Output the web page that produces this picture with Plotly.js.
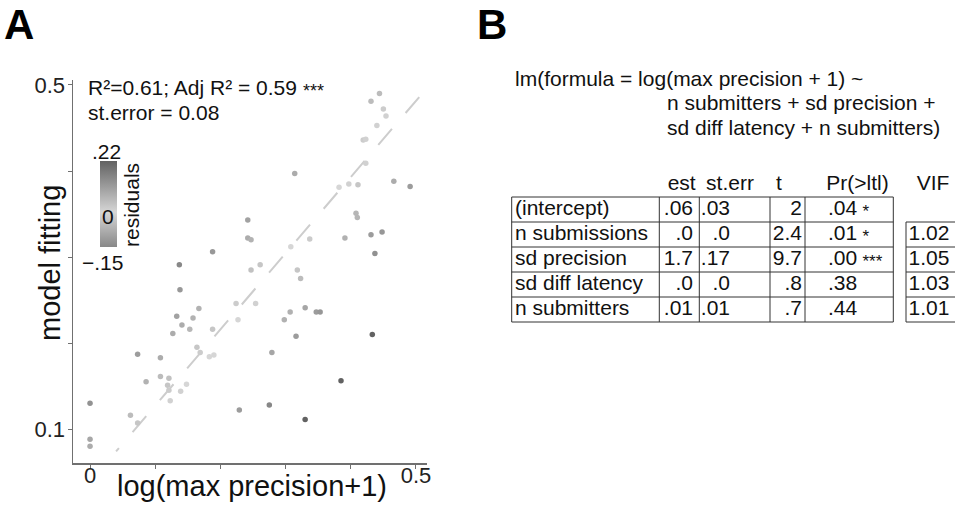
<!DOCTYPE html>
<html><head><meta charset="utf-8">
<script src="https://cdn.plot.ly/plotly-3.0.1.min.js"></script>
<style>html,body{margin:0;padding:0;background:#fff}#chart{width:955px;height:505px}</style>
</head><body><div id="chart"></div>
<script>
// ---------------- Panel A data ----------------
const observed = [0.444,0.431,0.450,0.454,0.440,0.419,0.423,0.423,0.314,0.382,
  0.397,0.411,0.466,0.491,0.408,0.410,0.242,0.242,0.247,0.337,
  0.308,0.391,0.431,0.448,0.437,0.188,0.137,0.247,0.261,0.318,
  0.323,0.138,0.224,0.254,0.227,0.307,0.298,0.330,0.347,0.353,
  0.316,0.433,0.279,0.385,0.229,0.275,0.330,0.167,0.133,0.158,
  0.141,0.153,0.127,0.188,0.164,0.169,0.183,0.190,0.073,0.108,
  0.086,0.108,0.121,0.119,0.121,0.139,0.148,0.123,0.000,0.062,
  0.073,0.000,0.000];
const fitted = [0.490,0.481,0.472,0.464,0.453,0.436,0.437,0.409,0.397,0.381,
  0.385,0.384,0.388,0.382,0.351,0.346,0.343,0.322,0.320,0.321,
  0.312,0.322,0.326,0.329,0.304,0.306,0.291,0.285,0.291,0.285,
  0.275,0.262,0.246,0.246,0.227,0.236,0.227,0.241,0.236,0.236,
  0.208,0.210,0.189,0.156,0.122,0.128,0.111,0.240,0.231,0.229,
  0.221,0.216,0.211,0.216,0.195,0.189,0.184,0.186,0.187,0.183,
  0.155,0.161,0.159,0.151,0.145,0.144,0.152,0.133,0.130,0.116,
  0.107,0.088,0.080];
const residuals = [-0.05,-0.05,-0.02,-0.01,-0.01,-0.02,-0.01,0.01,-0.08,0.00,
  0.01,0.03,0.08,0.11,0.06,0.06,-0.10,-0.08,-0.07,0.02,
  0.00,0.07,0.11,0.12,0.13,-0.12,-0.15,-0.04,-0.03,0.03,
  0.05,-0.12,-0.02,0.01,0.00,0.07,0.07,0.09,0.11,0.12,
  0.11,0.22,0.09,0.22,0.11,0.15,0.22,-0.07,-0.10,-0.07,
  -0.08,-0.06,-0.08,-0.03,-0.03,-0.02,0.00,0.00,-0.11,-0.08,
  -0.07,-0.05,-0.04,-0.03,-0.02,-0.01,0.00,-0.01,-0.13,-0.05,
  -0.03,-0.09,-0.08];
const fitLineX = [0.505, 0.040];
const fitLineY = [0.486, 0.074];
const xLabelVals = [0, 0.5];
const xLabelText = ['0', '0.5'];
const yLabelVals = [0.1, 0.5];
const yLabelText = ['0.1', '0.5'];
const tickStep = 0.1;
const residualMin = -0.15, residualMax = 0.22;
const residualLabels = ['.22', '0', '\u2212.15'];
const xTitle = 'log(max precision+1)';
const yTitle = 'model fitting';
const statsText1 = 'R\u00b2=0.61; Adj R\u00b2 = 0.59';
const statsStars = '***';
const statsText2 = 'st.error = 0.08';

// ---------------- Panel B data ----------------
const formulaLines = ['lm(formula = log(max precision + 1) ~',
  'n submitters + sd precision +',
  'sd diff latency + n submitters)'];
const tableHeaders = ['est', 'st.err', 't', 'Pr(>ltl)'];
const rowLabels = ['(intercept)', 'n submissions', 'sd precision', 'sd diff latency', 'n submitters'];
const estVals = ['.06', '.0', '1.7', '.0', '.01'];
const seVals = ['.03', '.0', '.17', '.0', '.01'];
const tVals = ['2', '2.4', '9.7', '.8', '.7'];
const pVals = ['.04', '.01', '.00', '.38', '.44'];
const sigStars = ['*', '*', '***', '', ''];
const vifHeader = 'VIF';
const vifVals = [null, '1.02', '1.05', '1.03', '1.01'];

// ---------------- layout / style constants ----------------
const W = 955, H = 505;
const FONT = '"Liberation Sans", Arial, Helvetica, sans-serif';
const px = v => v / W;
const py = v => 1 - v / H;
// table geometry (x2 units = px, y2 units = rows)
const colEdges = [0, 147.6, 187.6, 258.3, 293.3, 381.6];
const vifEdges = [394.3, 460];
const headerX = [170, 218.3, 267.3, 345.8];
const vifHeaderX = 421.3;
const labelX = 3.3, estX = 181.3, seX = 218.3, tX = 290.3, pX = 316.3, starX = 350.8, vifX = 396.8;
const starDy = 0.12, textSize = 21, starSize = 17;

// ---- Table text (scatter text trace on x2/y2) ----
const tx = [], ty = [], tt = [], tp = [], ts = [];
const addText = (x, y, t, pos, size) => { tx.push(x); ty.push(y); tt.push(t); tp.push(pos); ts.push(size || textSize); };
tableHeaders.forEach((h, i) => addText(headerX[i], 0.5, h, 'middle center'));
addText(vifHeaderX, 0.5, vifHeader, 'middle center');
rowLabels.forEach((lab, i) => {
  const r = i + 1.5;
  addText(labelX, r, lab, 'middle right');
  addText(estX, r, estVals[i], 'middle left');
  addText(seX, r, seVals[i], 'middle left');
  addText(tX, r, tVals[i], 'middle left');
  addText(pX, r, pVals[i], 'middle right');
  if (sigStars[i]) addText(starX, r + starDy, sigStars[i], 'middle right', starSize);
  if (vifVals[i] !== null) addText(vifX, r, vifVals[i], 'middle right');
});

// ---- Table borders (shapes on x2/y2) ----
const lineStyle = {color: '#333', width: 1};
const shapes = [];
const nRows = rowLabels.length;
shapes.push({type: 'rect', xref: 'x2', yref: 'y2', x0: colEdges[0], x1: colEdges[colEdges.length - 1], y0: 1, y1: nRows + 1, line: lineStyle});
for (let c = 1; c < colEdges.length - 1; c++) {
  shapes.push({type: 'line', xref: 'x2', yref: 'y2', x0: colEdges[c], x1: colEdges[c], y0: 1, y1: nRows + 1, line: lineStyle});
}
for (let r = 2; r <= nRows; r++) {
  shapes.push({type: 'line', xref: 'x2', yref: 'y2', x0: colEdges[0], x1: colEdges[colEdges.length - 1], y0: r, y1: r, line: lineStyle});
}
const firstVif = vifVals.findIndex(v => v !== null) + 1;
shapes.push({type: 'rect', xref: 'x2', yref: 'y2', x0: vifEdges[0], x1: vifEdges[1], y0: firstVif, y1: nRows + 1, line: lineStyle});
for (let r = firstVif + 1; r <= nRows; r++) {
  shapes.push({type: 'line', xref: 'x2', yref: 'y2', x0: vifEdges[0], x1: vifEdges[1], y0: r, y1: r, line: lineStyle});
}

// ---- Traces ----
const traces = [
  {type: 'scatter', mode: 'lines', x: fitLineX, y: fitLineY, xaxis: 'x', yaxis: 'y',
   line: {color: '#cdcdcd', width: 2, dash: '21px,21px'}, hoverinfo: 'skip'},
  {type: 'scatter', mode: 'markers', x: observed, y: fitted, xaxis: 'x', yaxis: 'y',
   marker: {size: 5.5, color: residuals, cmin: residualMin, cmax: residualMax,
     colorscale: [[0, '#888888'], [0.405, '#d6d6d6'], [1, '#626262']],
     line: {width: 0},
     showscale: true,
     colorbar: {x: px(100), xanchor: 'left', y: py(204.5), yanchor: 'middle',
       thickness: 17, thicknessmode: 'pixels', len: 86, lenmode: 'pixels',
       xpad: 0, ypad: 0, outlinewidth: 0, showticklabels: false, ticks: ''}}},
  {type: 'scatter', mode: 'text', x: tx, y: ty, text: tt, textposition: tp,
   xaxis: 'x2', yaxis: 'y2', cliponaxis: false, hoverinfo: 'skip',
   textfont: {family: FONT, size: ts, color: '#111'}}
];

const axisCommon = {showgrid: false, zeroline: false, showline: true, linecolor: '#707070', linewidth: 1.5,
  ticks: 'outside', ticklen: 4, tickwidth: 1, tickcolor: '#707070', automargin: false,
  tickmode: 'array', tickfont: {family: FONT, size: 22, color: '#222'}, fixedrange: true};
const minorTicks = {tickmode: 'linear', tick0: 0, dtick: tickStep, ticks: 'outside', ticklen: 4,
  tickwidth: 1, tickcolor: '#707070', showgrid: false};

const ann = (text, x, y, opts) => Object.assign({text, x: px(x), y: py(y), xref: 'paper', yref: 'paper',
  showarrow: false, borderpad: 0, borderwidth: 0, xanchor: 'left', yanchor: 'middle',
  font: {family: FONT, size: 21, color: '#111'}}, opts || {});

const annotations = [
  ann('<b>A</b>', 4, 1, {yanchor: 'top', font: {family: FONT, size: 42, color: '#000'}}),
  ann('<b>B</b>', 477, 1, {yanchor: 'top', font: {family: FONT, size: 42, color: '#000'}}),
  ann(statsText1, 88, 88),
  ann(statsStars, 303, 91, {font: {family: FONT, size: 18, color: '#111'}}),
  ann(statsText2, 88, 113),
  ann(residualLabels[0], 106, 151, {xanchor: 'center'}),
  ann(residualLabels[1], 107.5, 217, {xanchor: 'center'}),
  ann(residualLabels[2], 102, 262, {xanchor: 'center'}),
  ann('residuals', 131, 205, {xanchor: 'center', textangle: -90}),
  ann(xTitle, 251.5, 486, {xanchor: 'center', font: {family: FONT, size: 29, color: '#111'}}),
  ann(yTitle, 50, 263, {xanchor: 'center', textangle: -90, font: {family: FONT, size: 29, color: '#111'}}),
  ann(formulaLines[0], 515, 78),
  ann(formulaLines[1], 667, 103),
  ann(formulaLines[2], 667, 127)
];

const layout = {
  width: W, height: H, margin: {l: 0, r: 0, t: 0, b: 0},
  paper_bgcolor: '#fff', plot_bgcolor: '#fff', showlegend: false, hovermode: false,
  font: {family: FONT, color: '#111'},
  xaxis: Object.assign({}, axisCommon, {domain: [px(73), px(427)], range: [-0.0261, 0.5169],
    tickvals: xLabelVals, ticktext: xLabelText, ticklabelstandoff: -12, anchor: 'y',
    minor: minorTicks}),
  yaxis: Object.assign({}, axisCommon, {domain: [py(463), py(80)], range: [0.0605, 0.5058],
    tickvals: yLabelVals, ticktext: yLabelText, ticklabelstandoff: -2, anchor: 'x',
    minor: minorTicks}),
  xaxis2: {domain: [px(506.7), 1], range: [-5, 443.3], visible: false, anchor: 'y2', fixedrange: true},
  yaxis2: {domain: [py(327), py(167)], range: [6.2, -0.2], visible: false, anchor: 'x2', fixedrange: true},
  shapes, annotations
};

Plotly.newPlot('chart', traces, layout, {staticPlot: true, displayModeBar: false});
</script>
</body></html>
